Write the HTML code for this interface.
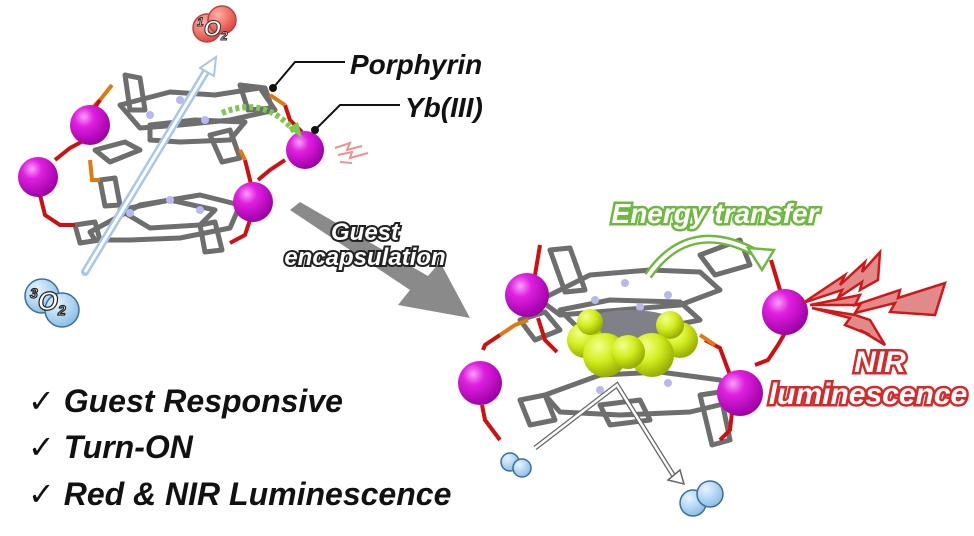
<!DOCTYPE html>
<html><head><meta charset="utf-8"><style>
html,body{margin:0;padding:0;background:#fff;}
svg{display:block;}
text{font-family:"Liberation Sans",sans-serif;font-weight:bold;font-style:italic;}
</style></head><body>
<svg width="974" height="536" viewBox="0 0 974 536" xmlns="http://www.w3.org/2000/svg">
<defs>
<radialGradient id="mag" cx="0.35" cy="0.3" r="0.7"><stop offset="0" stop-color="#f7a0f7"/><stop offset="0.35" stop-color="#e020e0"/><stop offset="1" stop-color="#a000a8"/></radialGradient>
<radialGradient id="yel" cx="0.35" cy="0.3" r="0.7"><stop offset="0" stop-color="#f4ff90"/><stop offset="0.5" stop-color="#d4ee20"/><stop offset="1" stop-color="#98b000"/></radialGradient>
<radialGradient id="blu" cx="0.35" cy="0.3" r="0.7"><stop offset="0" stop-color="#e8f4ff"/><stop offset="1" stop-color="#8ec0e8"/></radialGradient>
<radialGradient id="red" cx="0.35" cy="0.3" r="0.7"><stop offset="0" stop-color="#ffb0a8"/><stop offset="1" stop-color="#e04a40"/></radialGradient>
</defs>

<!-- LEFT CAGE -->
<g fill="none" stroke="#6e6e6e" stroke-width="5" stroke-linejoin="round">
  <!-- upper porphyrin -->
  <path d="M120 105 L170 92 L215 95 L260 88 L275 110 L230 120 L180 125 L140 128 Z"/>
  <path d="M150 125 L195 120 L245 122 L230 140 L180 142 L150 140 Z"/>
  <path d="M125 75 L140 78 L145 110 L130 110 Z"/>
  <path d="M240 85 L265 88 L272 108 L248 110 Z"/>
  <path d="M95 150 L125 142 L140 150 L110 162 Z"/>
  <path d="M210 135 L230 130 L240 158 L222 162 Z"/>
  <!-- lower porphyrin -->
  <path d="M90 232 L140 205 L200 195 L240 205 L230 228 L180 238 L130 240 L95 240 Z"/>
  <path d="M120 210 L170 200 L215 210 L200 225 L150 228 Z"/>
  <path d="M75 225 L95 222 L100 240 L80 243 Z"/>
  <path d="M100 180 L115 178 L120 205 L105 206 Z"/>
  <path d="M200 225 L215 222 L222 250 L205 252 Z"/>
</g>
<g fill="#b8b8f0"><circle cx="180" cy="100" r="4"/><circle cx="205" cy="120" r="4"/><circle cx="150" cy="115" r="4"/><circle cx="170" cy="200" r="4"/><circle cx="200" cy="210" r="4"/><circle cx="130" cy="213" r="4"/></g>
<g fill="none" stroke-width="4">
  <path d="M112 85 L100 100 L90 110" stroke="#e07a10"/><path d="M100 100 L92 112" stroke="#d01010"/>
  <path d="M55 160 L70 148 L85 140" stroke="#d01010"/>
  <path d="M40 195 L45 215 L60 225 L75 225" stroke="#d01010"/>
  <path d="M90 160 L92 180 L100 180" stroke="#e07a10"/>
  <path d="M285 105 L290 120 L302 132" stroke="#d01010"/>
  <path d="M245 160 L250 180 L253 195" stroke="#d01010"/>
  <path d="M285 160 L270 170 L258 180" stroke="#d01010"/>
  <path d="M250 220 L245 235 L230 243" stroke="#d01010"/>
  <path d="M270 95 L285 105" stroke="#e07a10"/>
  <path d="M240 150 L245 160" stroke="#e07a10"/>
</g>
<circle cx="90" cy="125" r="20" fill="url(#mag)"/>
<circle cx="38" cy="177" r="20" fill="url(#mag)"/>
<circle cx="305" cy="150" r="19" fill="url(#mag)"/>
<circle cx="253" cy="202" r="20" fill="url(#mag)"/>
<!-- green dotted arrow -->
<path d="M222 113 Q265 95 295 132" fill="none" stroke="#7ec850" stroke-width="6" stroke-dasharray="4 3"/>
<polygon points="288,128 302,138 298,122" fill="#7ec850"/>
<!-- small red sparks -->
<g stroke="#f09090" stroke-width="2" fill="none"><path d="M335 148 L350 143 L347 150 L362 146"/><path d="M338 155 L352 152 L350 158 L368 153"/><path d="M340 162 L352 163"/></g>
<!-- blue arrow -->
<line x1="85" y1="272" x2="210" y2="65" stroke="#a8c6ee" stroke-width="8" stroke-linecap="round"/>
<line x1="85" y1="272" x2="210" y2="65" stroke="#fff" stroke-width="3"/>
<polygon points="200,68 216,57 214,76" fill="#fff" stroke="#a8c6ee" stroke-width="2"/>
<!-- 1O2 -->
<circle cx="207" cy="28" r="14" fill="url(#red)" stroke="#c04040" stroke-width="1.5"/>
<circle cx="222" cy="20" r="14" fill="url(#red)" stroke="#c04040" stroke-width="1.5"/>
<text x="197" y="36" font-size="22" fill="#fff" stroke="#333" stroke-width="1" font-style="normal"><tspan font-size="12" dy="-10">1</tspan><tspan dy="10">O</tspan><tspan font-size="12" dy="4">2</tspan></text>
<!-- 3O2 -->
<circle cx="42" cy="296" r="17" fill="url(#blu)" stroke="#3a6f9a" stroke-width="1.5"/>
<circle cx="62" cy="310" r="17" fill="url(#blu)" stroke="#3a6f9a" stroke-width="1.5"/>
<text x="30" y="310" font-size="26" fill="#fff" stroke="#222" stroke-width="1.2" font-style="normal"><tspan font-size="14" dy="-12">3</tspan><tspan dy="12">O</tspan><tspan font-size="14" dy="5">2</tspan></text>
<!-- labels -->
<polyline points="273,88 295,62 345,62" fill="none" stroke="#111" stroke-width="2"/><circle cx="273" cy="88" r="4" fill="#111"/>
<text x="350" y="74" font-size="28" fill="#111">Porphyrin</text>
<polyline points="315,130 340,105 400,105" fill="none" stroke="#111" stroke-width="2"/><circle cx="315" cy="130" r="4" fill="#111"/>
<text x="405" y="117" font-size="28" fill="#111">Yb(III)</text>

<!-- Big gray arrow -->
<polygon points="290,210 410,290 398,305 470,318 440,262 428,276 300,202" fill="#8a8a8a"/>
<text x="365" y="240" font-size="24" fill="#fff" stroke="#222" stroke-width="4" paint-order="stroke" text-anchor="middle">Guest</text>
<text x="365" y="265" font-size="24" fill="#fff" stroke="#222" stroke-width="4" paint-order="stroke" text-anchor="middle">encapsulation</text>

<!-- RIGHT CAGE -->
<g fill="none" stroke="#6e6e6e" stroke-width="5" stroke-linejoin="round">
  <path d="M540 300 L590 275 L650 270 L700 272 L720 290 L680 305 L620 310 L560 315 Z"/>
  <path d="M560 310 L610 300 L680 302 L700 320 L650 330 L580 330 Z"/>
  <path d="M550 250 L570 248 L585 290 L565 292 Z"/>
  <path d="M700 255 L740 240 L750 265 L715 275 Z"/>
  <path d="M520 320 L545 312 L560 330 L535 340 Z"/>
  <path d="M545 395 L600 375 L660 372 L720 380 L740 400 L690 412 L620 415 L560 412 Z"/>
  <path d="M520 400 L545 395 L555 420 L530 425 Z"/>
  <path d="M700 395 L720 392 L730 440 L712 445 Z"/>
  <path d="M600 405 L640 400 L650 420 L610 425 Z"/>
</g>
<g fill="#b8b8f0"><circle cx="625" cy="283" r="4"/><circle cx="595" cy="300" r="4"/><circle cx="668" cy="295" r="4"/><circle cx="640" cy="307" r="4"/><circle cx="600" cy="390" r="4"/><circle cx="668" cy="383" r="4"/></g>
<g fill="none" stroke-width="4">
  <path d="M540 245 L535 275" stroke="#d01010"/>
  <path d="M538 318 L545 340 L557 352" stroke="#d01010"/>
  <path d="M500 335 L515 325 L528 320" stroke="#e07a10"/>
  <path d="M483 350 L485 345 L500 335" stroke="#d01010"/>
  <path d="M482 405 L485 420 L500 440" stroke="#d01010"/>
  <path d="M771 260 L780 290" stroke="#d01010"/>
  <path d="M785 333 L778 345 L768 360 L755 365" stroke="#d01010"/>
  <path d="M705 340 L720 348 L730 375" stroke="#d01010"/>
  <path d="M732 412 L730 430 L720 440" stroke="#d01010"/>
  <path d="M700 335 L715 345" stroke="#e07a10"/>
</g>
<!-- guest -->
<ellipse cx="630" cy="330" rx="55" ry="20" fill="#808088"/>
<circle cx="585" cy="340" r="18" fill="url(#yel)"/>
<circle cx="680" cy="340" r="18" fill="url(#yel)"/>
<circle cx="670" cy="325" r="14" fill="url(#yel)"/>
<circle cx="590" cy="322" r="13" fill="url(#yel)"/>
<circle cx="605" cy="355" r="22" fill="url(#yel)"/>
<circle cx="652" cy="355" r="22" fill="url(#yel)"/>
<circle cx="628" cy="352" r="17" fill="url(#yel)"/>
<!-- spheres right -->
<circle cx="527" cy="295" r="22" fill="url(#mag)"/>
<circle cx="480" cy="383" r="22" fill="url(#mag)"/>
<circle cx="785" cy="312" r="23" fill="url(#mag)"/>
<circle cx="740" cy="393" r="23" fill="url(#mag)"/>
<!-- white arrows -->
<g stroke="#666" stroke-width="5" fill="none"><path d="M535 448 L617 385 L675 478"/></g>
<g stroke="#fff" stroke-width="2.5" fill="none"><path d="M535 448 L617 385 L675 478"/></g>
<polygon points="668,480 684,484 680,470" fill="#fff" stroke="#666" stroke-width="1.5"/>
<!-- small O2 -->
<circle cx="510" cy="462" r="9" fill="url(#blu)" stroke="#3a6f9a" stroke-width="1.5"/>
<circle cx="522" cy="468" r="9" fill="url(#blu)" stroke="#3a6f9a" stroke-width="1.5"/>
<circle cx="693" cy="503" r="13" fill="url(#blu)" stroke="#3a6f9a" stroke-width="1.5"/>
<circle cx="710" cy="494" r="13" fill="url(#blu)" stroke="#3a6f9a" stroke-width="1.5"/>
<!-- energy transfer arrow -->
<path d="M648 276 Q690 215 760 255" fill="none" stroke="#6fb840" stroke-width="9"/>
<path d="M648 276 Q690 215 760 255" fill="none" stroke="#fff" stroke-width="4"/>
<polygon points="748,248 774,250 762,270" fill="#fff" stroke="#6fb840" stroke-width="2.5"/>
<text x="715" y="223" font-size="28" fill="#fff" stroke="#6fb840" stroke-width="5" paint-order="stroke" text-anchor="middle">Energy transfer</text>
<!-- lightning -->
<g fill="#e08a8a" stroke="#d01818" stroke-width="2.5" stroke-linejoin="miter">
<polygon points="803,303 845,275 840,285 865,262 862,272 880,252 878,280 860,290 862,282 838,298 842,290"/>
<polygon points="810,305 860,295 855,305 900,290 898,298 945,283 935,315 890,312 895,303 855,313 860,305"/>
<polygon points="812,308 850,318 845,325 870,335 860,330 885,345 870,320 855,315"/>
</g>
<text x="880" y="372" font-size="30" fill="#fff" stroke="#d82828" stroke-width="5" paint-order="stroke" text-anchor="middle">NIR</text>
<text x="868" y="404" font-size="30" fill="#fff" stroke="#d82828" stroke-width="5" paint-order="stroke" text-anchor="middle">luminescence</text>

<!-- checklist -->
<text x="28" y="412" font-size="32" fill="#111"><tspan font-style="normal" font-weight="normal" font-family="DejaVu Sans">✓</tspan> Guest Responsive</text>
<text x="28" y="458" font-size="32" fill="#111"><tspan font-style="normal" font-weight="normal" font-family="DejaVu Sans">✓</tspan> Turn-ON</text>
<text x="28" y="505" font-size="32" fill="#111"><tspan font-style="normal" font-weight="normal" font-family="DejaVu Sans">✓</tspan> Red &amp; NIR Luminescence</text>
</svg>
</body></html>
